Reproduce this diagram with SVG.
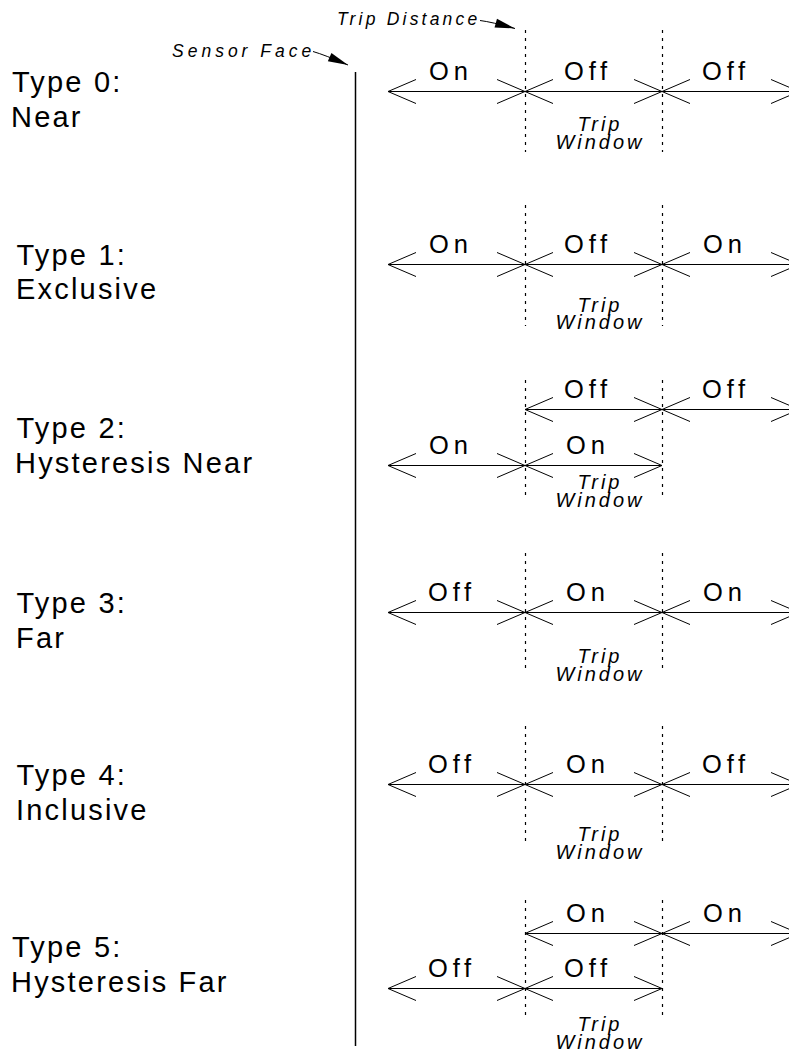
<svg xmlns="http://www.w3.org/2000/svg" width="789" height="1057" viewBox="0 0 789 1057">
<style>
.lbl{font-family:"Liberation Sans",Arial,sans-serif;font-size:29px;letter-spacing:2.2px;fill:#000}
.on,.off{font-family:"Liberation Sans",Arial,sans-serif;font-size:25.5px;letter-spacing:4.8px;fill:#000}
.tw{font-family:"Liberation Sans",Arial,sans-serif;font-size:20px;font-style:italic;letter-spacing:3px;fill:#000;text-anchor:middle}
.note{font-family:"Liberation Sans",Arial,sans-serif;font-size:17.5px;font-style:italic;fill:#000}
.dim{stroke:#000;stroke-width:1;fill:none;marker-start:url(#v);marker-end:url(#v)}
.dash{stroke:#000;stroke-width:1.2;stroke-dasharray:3 5;fill:none}
.lead{stroke:#000;stroke-width:1;fill:none;marker-end:url(#fa)}
</style>
<defs>
<marker id="v" markerUnits="userSpaceOnUse" orient="auto-start-reverse" markerWidth="30" markerHeight="30" refX="0" refY="0" overflow="visible">
<path d="M-28,-12 L0,0 L-28,12" fill="none" stroke="#000" stroke-width="1"/>
</marker>
<marker id="fa" markerUnits="userSpaceOnUse" orient="auto" markerWidth="20" markerHeight="10" refX="0" refY="0" overflow="visible">
<path d="M0,0 L-20,-4.5 L-20,4.5 Z" fill="#000"/>
</marker>
</defs>
<rect width="789" height="1057" fill="#fff"/>

<g id="sensor-face">
<line x1="355.5" y1="72" x2="355.5" y2="1046" stroke="#000" stroke-width="1.5"/>
<text class="note" x="172" y="57" letter-spacing="4">Sensor Face</text>
</g>
<g id="trip-distance">
<text class="note" x="337" y="25" letter-spacing="3.2">Trip Distance</text>
</g>

<g id="connectors">
<path class="lead" d="M313,51.5 Q325,55 348,65"/>
<path class="lead" d="M480,20.5 Q492,22 515,28.5"/>
<path class="dash" d="M525.5,30V152M662.5,30V152"/>
<path class="dash" d="M525.5,205V326M662.5,205V326"/>
<path class="dash" d="M525.5,380V497M662.5,380V497"/>
<path class="dash" d="M525.5,553V670M662.5,553V670"/>
<path class="dash" d="M525.5,726V843M662.5,726V843"/>
<path class="dash" d="M525.5,900V1017M662.5,900V1017"/>
<line class="dim" x1="388" y1="91.5" x2="525" y2="91.5"/>
<line class="dim" x1="525" y1="91.5" x2="662" y2="91.5"/>
<line class="dim" x1="662" y1="91.5" x2="799" y2="91.5"/>
<line class="dim" x1="388" y1="264.5" x2="525" y2="264.5"/>
<line class="dim" x1="525" y1="264.5" x2="662" y2="264.5"/>
<line class="dim" x1="662" y1="264.5" x2="799" y2="264.5"/>
<line class="dim" x1="525" y1="409.5" x2="662" y2="409.5"/>
<line class="dim" x1="662" y1="409.5" x2="799" y2="409.5"/>
<line class="dim" x1="388" y1="465.5" x2="525" y2="465.5"/>
<line class="dim" x1="525" y1="465.5" x2="662" y2="465.5"/>
<line class="dim" x1="388" y1="612.5" x2="525" y2="612.5"/>
<line class="dim" x1="525" y1="612.5" x2="662" y2="612.5"/>
<line class="dim" x1="662" y1="612.5" x2="799" y2="612.5"/>
<line class="dim" x1="388" y1="784.5" x2="525" y2="784.5"/>
<line class="dim" x1="525" y1="784.5" x2="662" y2="784.5"/>
<line class="dim" x1="662" y1="784.5" x2="799" y2="784.5"/>
<line class="dim" x1="525" y1="933.5" x2="662" y2="933.5"/>
<line class="dim" x1="662" y1="933.5" x2="799" y2="933.5"/>
<line class="dim" x1="388" y1="988.5" x2="525" y2="988.5"/>
<line class="dim" x1="525" y1="988.5" x2="662" y2="988.5"/>
</g>

<g id="type0">
<text class="lbl" x="12" y="92">Type 0:</text>
<text class="lbl" x="11" y="127">Near</text>
<text class="on" x="429" y="80">On</text>
<text class="off" x="564" y="80">Off</text>
<text class="off" x="702" y="80">Off</text>
<text class="tw" x="600" y="131">Trip</text>
<text class="tw" x="600" y="149">Window</text>
</g>

<g id="type1">
<text class="lbl" x="16.5" y="265">Type 1:</text>
<text class="lbl" x="16" y="299">Exclusive</text>
<text class="on" x="429" y="253">On</text>
<text class="off" x="564" y="253">Off</text>
<text class="on" x="703" y="253">On</text>
<text class="tw" x="600" y="312">Trip</text>
<text class="tw" x="600" y="329">Window</text>
</g>

<g id="type2">
<text class="lbl" x="16.5" y="438">Type 2:</text>
<text class="lbl" x="15" y="473">Hysteresis Near</text>
<text class="off" x="564" y="398">Off</text>
<text class="off" x="702" y="398">Off</text>
<text class="on" x="429" y="454">On</text>
<text class="on" x="566" y="454">On</text>
<text class="tw" x="600" y="489">Trip</text>
<text class="tw" x="600" y="507">Window</text>
</g>

<g id="type3">
<text class="lbl" x="16.5" y="613">Type 3:</text>
<text class="lbl" x="16" y="648">Far</text>
<text class="off" x="428" y="601">Off</text>
<text class="on" x="566" y="601">On</text>
<text class="on" x="703" y="601">On</text>
<text class="tw" x="600" y="663">Trip</text>
<text class="tw" x="600" y="681">Window</text>
</g>

<g id="type4">
<text class="lbl" x="16.5" y="785">Type 4:</text>
<text class="lbl" x="16" y="820">Inclusive</text>
<text class="off" x="428" y="773">Off</text>
<text class="on" x="566" y="773">On</text>
<text class="off" x="702" y="773">Off</text>
<text class="tw" x="600" y="841">Trip</text>
<text class="tw" x="600" y="859">Window</text>
</g>

<g id="type5">
<text class="lbl" x="12" y="957">Type 5:</text>
<text class="lbl" x="11" y="992">Hysteresis Far</text>
<text class="on" x="566" y="922">On</text>
<text class="on" x="703" y="922">On</text>
<text class="off" x="428" y="977">Off</text>
<text class="off" x="564" y="977">Off</text>
<text class="tw" x="600" y="1031">Trip</text>
<text class="tw" x="600" y="1049">Window</text>
</g>
</svg>
